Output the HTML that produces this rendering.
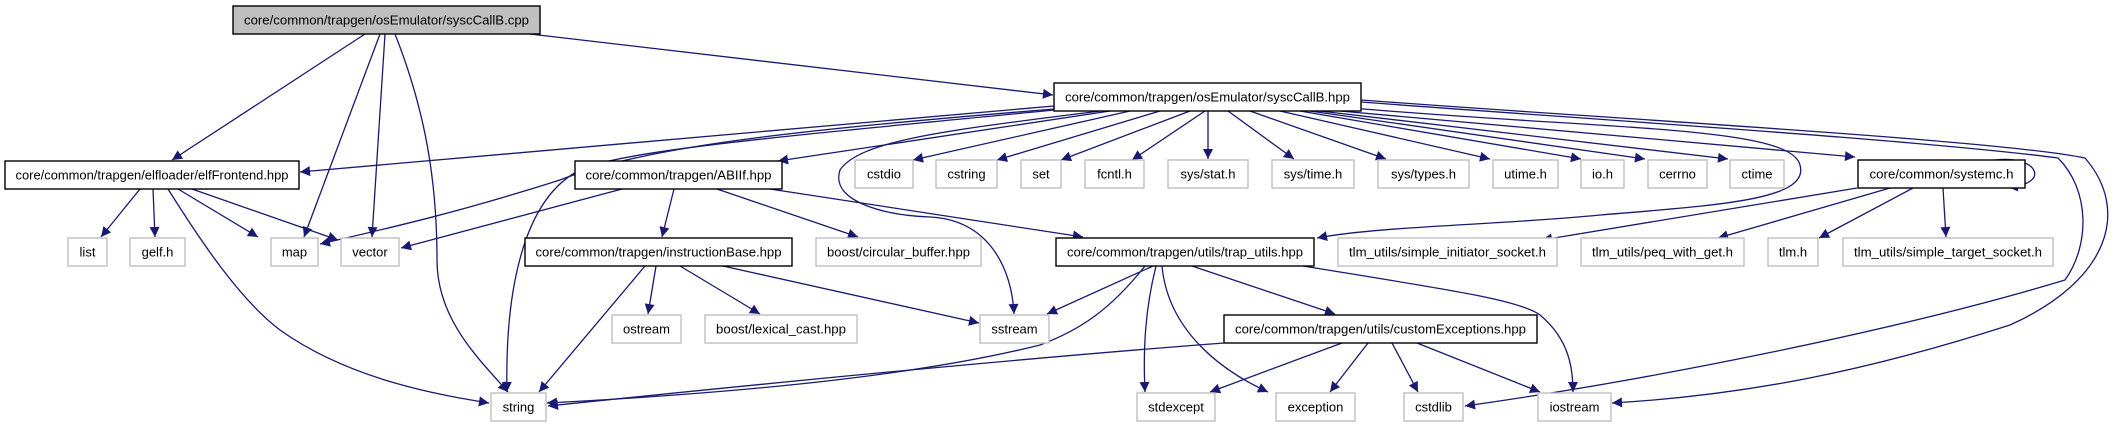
<!DOCTYPE html>
<html><head><meta charset="utf-8"><style>
html,body{margin:0;padding:0;background:#fff;}
svg{display:block;}
text{font-family:"Liberation Sans",sans-serif;font-size:13px;fill:#000;}
.e{fill:none;stroke:#191970;stroke-width:1.3;}
.n{fill:#fff;stroke:#000;stroke-width:1.4;}
.l{fill:#fff;stroke:#bfbfbf;stroke-width:1.4;}
</style></head><body>
<svg width="2123" height="427" viewBox="0 0 2123 427" xmlns="http://www.w3.org/2000/svg">
<defs><marker id="a" viewBox="0 0 10 10" refX="10" refY="5" markerWidth="11" markerHeight="10" orient="auto" markerUnits="userSpaceOnUse"><path d="M0,0 L10,5 L0,10 z" fill="#191970"/></marker></defs>
<g marker-end="url(#a)">
<path class="e" d="M365,34 L172,160"/>
<path class="e" d="M380,34 L304,237"/>
<path class="e" d="M385,34 L372,237"/>
<path class="e" d="M395,34 C425,110 437,180 437,260 C437,320 480,360 508,392"/>
<path class="e" d="M530,34 L1053,95"/>
<path class="e" d="M1054,106 L300,172"/>
<path class="e" d="M1054,109 C800,130 650,145 560,180 C450,215 380,230 320,244"/>
<path class="e" d="M1054,110 C800,135 620,150 580,170 C520,200 505,300 507,392"/>
<path class="e" d="M1110,111 L778,161"/>
<path class="e" d="M1100,111 C950,130 860,140 840,170 C830,200 880,215 930,217 C990,220 1012,270 1014,314"/>
<path class="e" d="M1130,111 L913,160"/>
<path class="e" d="M1160,111 L997,160"/>
<path class="e" d="M1190,111 L1061,160"/>
<path class="e" d="M1205,111 L1132,160"/>
<path class="e" d="M1208,111 L1208,159"/>
<path class="e" d="M1228,111 L1294,159"/>
<path class="e" d="M1250,111 L1386,159"/>
<path class="e" d="M1280,111 L1490,159"/>
<path class="e" d="M1300,111 L1581,159"/>
<path class="e" d="M1310,111 L1645,159"/>
<path class="e" d="M1320,111 L1728,159"/>
<path class="e" d="M1340,111 L1855,157"/>
<path class="e" d="M1340,107 C1600,130 1790,125 1800,165 C1810,200 1720,205 1600,215 C1500,225 1380,226 1317,238"/>
<path class="e" d="M1361,102 C1600,120 1920,140 2058,158 C2090,190 2090,245 2065,280 C1900,330 1650,380 1465,406"/>
<path class="e" d="M1361,100 C1600,118 2000,140 2085,158 C2130,210 2110,280 2010,325 C1870,370 1750,395 1612,403"/>
<path class="e" d="M1995,160 C2040,155 2050,185 2008,187"/>
<path class="e" d="M1857,188 L1542,240"/>
<path class="e" d="M1890,188 L1718,238"/>
<path class="e" d="M1913,188 L1819,238"/>
<path class="e" d="M1943,188 L1946,237"/>
<path class="e" d="M140,189 L101,237"/>
<path class="e" d="M153,189 L155,237"/>
<path class="e" d="M178,189 L258,237"/>
<path class="e" d="M192,189 L338,240"/>
<path class="e" d="M168,189 C200,240 240,300 280,330 C350,380 440,395 489,403"/>
<path class="e" d="M622,189 L401,248"/>
<path class="e" d="M674,189 L662,237"/>
<path class="e" d="M717,189 L858,237"/>
<path class="e" d="M770,189 L1083,237"/>
<path class="e" d="M645,266 L539,392"/>
<path class="e" d="M656,266 L648,314"/>
<path class="e" d="M680,266 L760,314"/>
<path class="e" d="M723,266 L979,323"/>
<path class="e" d="M1153,266 L1047,314"/>
<path class="e" d="M1145,266 C1110,310 1080,330 1040,345 C900,380 700,395 547,403"/>
<path class="e" d="M1156,266 C1145,310 1143,350 1145,392"/>
<path class="e" d="M1162,266 C1168,330 1220,370 1268,392"/>
<path class="e" d="M1192,266 L1335,314"/>
<path class="e" d="M1303,266 C1450,290 1520,300 1540,315 C1570,340 1573,370 1573,392"/>
<path class="e" d="M1224,343 C1000,360 750,385 548,406"/>
<path class="e" d="M1342,343 L1210,392"/>
<path class="e" d="M1368,343 L1330,392"/>
<path class="e" d="M1392,343 L1418,392"/>
<path class="e" d="M1417,343 L1540,392"/>
</g>
<rect x="233" y="6" width="307" height="28" fill="#bfbfbf" stroke="#000" stroke-width="1.4"/>
<text x="386.5" y="24.5" text-anchor="middle" textLength="285" lengthAdjust="spacingAndGlyphs">core/common/trapgen/osEmulator/syscCallB.cpp</text>
<rect class="n" x="1054" y="83" width="307" height="28"/>
<text x="1207.5" y="101.5" text-anchor="middle" textLength="285" lengthAdjust="spacingAndGlyphs">core/common/trapgen/osEmulator/syscCallB.hpp</text>
<rect class="n" x="5" y="161" width="294" height="28"/>
<text x="152" y="179.5" text-anchor="middle" textLength="273" lengthAdjust="spacingAndGlyphs">core/common/trapgen/elfloader/elfFrontend.hpp</text>
<rect class="n" x="575" y="161" width="207" height="28"/>
<text x="678.5" y="179.5" text-anchor="middle" textLength="186" lengthAdjust="spacingAndGlyphs">core/common/trapgen/ABIIf.hpp</text>
<rect class="l" x="855" y="160" width="58" height="28"/><text x="884" y="178.5" text-anchor="middle">cstdio</text>
<rect class="l" x="936" y="160" width="61" height="28"/><text x="966.5" y="178.5" text-anchor="middle">cstring</text>
<rect class="l" x="1021" y="160" width="40" height="28"/><text x="1041" y="178.5" text-anchor="middle">set</text>
<rect class="l" x="1085" y="160" width="59" height="28"/><text x="1114.5" y="178.5" text-anchor="middle">fcntl.h</text>
<rect class="l" x="1168" y="160" width="80" height="28"/><text x="1208" y="178.5" text-anchor="middle">sys/stat.h</text>
<rect class="l" x="1272" y="160" width="82" height="28"/><text x="1313" y="178.5" text-anchor="middle">sys/time.h</text>
<rect class="l" x="1378" y="160" width="91" height="28"/><text x="1423.5" y="178.5" text-anchor="middle">sys/types.h</text>
<rect class="l" x="1493" y="160" width="65" height="28"/><text x="1525.5" y="178.5" text-anchor="middle">utime.h</text>
<rect class="l" x="1581" y="160" width="43" height="28"/><text x="1602.5" y="178.5" text-anchor="middle">io.h</text>
<rect class="l" x="1648" y="160" width="59" height="28"/><text x="1677.5" y="178.5" text-anchor="middle">cerrno</text>
<rect class="l" x="1730" y="160" width="54" height="28"/><text x="1757" y="178.5" text-anchor="middle">ctime</text>
<rect class="n" x="1858" y="160" width="167" height="28"/>
<text x="1941.5" y="178.5" text-anchor="middle" textLength="144" lengthAdjust="spacingAndGlyphs">core/common/systemc.h</text>
<rect class="l" x="68" y="238" width="39" height="28"/><text x="87.5" y="256.5" text-anchor="middle">list</text>
<rect class="l" x="130" y="238" width="55" height="28"/><text x="157.5" y="256.5" text-anchor="middle">gelf.h</text>
<rect class="l" x="271" y="238" width="47" height="28"/><text x="294.5" y="256.5" text-anchor="middle">map</text>
<rect class="l" x="341" y="238" width="58" height="28"/><text x="370" y="256.5" text-anchor="middle">vector</text>
<rect class="n" x="525" y="238" width="267" height="28"/>
<text x="658.5" y="256.5" text-anchor="middle" textLength="246" lengthAdjust="spacingAndGlyphs">core/common/trapgen/instructionBase.hpp</text>
<rect class="l" x="816" y="238" width="165" height="28"/>
<text x="898.5" y="256.5" text-anchor="middle" textLength="143" lengthAdjust="spacingAndGlyphs">boost/circular_buffer.hpp</text>
<rect class="n" x="1056" y="238" width="258" height="28"/>
<text x="1185" y="256.5" text-anchor="middle" textLength="236" lengthAdjust="spacingAndGlyphs">core/common/trapgen/utils/trap_utils.hpp</text>
<rect class="l" x="1338" y="238" width="219" height="28"/>
<text x="1447.5" y="256.5" text-anchor="middle" textLength="197" lengthAdjust="spacingAndGlyphs">tlm_utils/simple_initiator_socket.h</text>
<rect class="l" x="1581" y="238" width="163" height="28"/>
<text x="1662.5" y="256.5" text-anchor="middle" textLength="141" lengthAdjust="spacingAndGlyphs">tlm_utils/peq_with_get.h</text>
<rect class="l" x="1768" y="238" width="50" height="28"/><text x="1793" y="256.5" text-anchor="middle">tlm.h</text>
<rect class="l" x="1843" y="238" width="210" height="28"/>
<text x="1948" y="256.5" text-anchor="middle" textLength="188" lengthAdjust="spacingAndGlyphs">tlm_utils/simple_target_socket.h</text>
<rect class="l" x="612" y="315" width="69" height="28"/><text x="646.5" y="333.5" text-anchor="middle">ostream</text>
<rect class="l" x="705" y="315" width="152" height="28"/>
<text x="781" y="333.5" text-anchor="middle" textLength="130" lengthAdjust="spacingAndGlyphs">boost/lexical_cast.hpp</text>
<rect class="l" x="980" y="315" width="69" height="28"/><text x="1014.5" y="333.5" text-anchor="middle">sstream</text>
<rect class="n" x="1224" y="315" width="313" height="28"/>
<text x="1380.5" y="333.5" text-anchor="middle" textLength="291" lengthAdjust="spacingAndGlyphs">core/common/trapgen/utils/customExceptions.hpp</text>
<rect class="l" x="491" y="393" width="55" height="28"/><text x="518.5" y="411.5" text-anchor="middle">string</text>
<rect class="l" x="1137" y="393" width="78" height="28"/><text x="1176" y="411.5" text-anchor="middle">stdexcept</text>
<rect class="l" x="1276" y="393" width="79" height="28"/><text x="1315.5" y="411.5" text-anchor="middle">exception</text>
<rect class="l" x="1404" y="393" width="59" height="28"/><text x="1433.5" y="411.5" text-anchor="middle">cstdlib</text>
<rect class="l" x="1538" y="393" width="73" height="28"/><text x="1574.5" y="411.5" text-anchor="middle">iostream</text>
</svg>
</body></html>
